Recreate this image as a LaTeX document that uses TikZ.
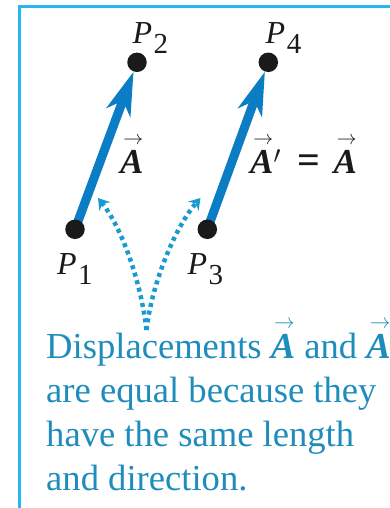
\documentclass[tikz,border=0pt]{standalone}
\usepackage{fontspec}
\setmainfont{Liberation Serif}
\usepackage{graphicx}
\usetikzlibrary{arrows.meta,backgrounds}
\definecolor{framecol}{HTML}{27B6EE}
\definecolor{vecblue}{HTML}{0B7DC4}
\definecolor{dotblue}{HTML}{1A9AD2}
\definecolor{txtblue}{HTML}{1E8DBB}
\definecolor{ptblack}{HTML}{1A1A1A}
\newcommand{\vecov}[1]{\setbox0=\hbox{#1}\leavevmode\rlap{\kern0.14\wd0\raisebox{\dimexpr\ht0+5.5pt\relax}{\resizebox{0.85\wd0}{!}{$\rightarrow$}}}\box0}
\newcommand{\vecA}{\vecov{\bfseries\itshape A}}
\newcommand{\Pl}[1]{{\fontsize{32}{32}\selectfont\itshape P}\kern1.5pt\raisebox{-10pt}{\fontsize{29}{29}\selectfont #1}}
\begin{document}
\begin{tikzpicture}[x=1pt,y=-1pt,
  ptdot/.style={circle,fill=ptblack,inner sep=0pt,minimum size=19.5pt},
  vecline/.style={vecblue,line width=9pt,-{Stealth[length=43pt,width=25pt,inset=12pt]}},
  dotline/.style={dotblue,line width=4.5pt,dash pattern=on 4pt off 3.8pt,-{Stealth[length=11pt,width=14pt,inset=4pt]}},
  lbl/.style={text=ptblack,inner sep=0pt,anchor=base west},
  veclbl/.style={text=ptblack,inner sep=0pt,anchor=base west,font=\fontsize{35}{35}\selectfont},
  captxt/.style={text=txtblue,inner sep=0pt,anchor=base west,font=\fontsize{36.6}{43}\selectfont}]
\useasboundingbox (0,0) rectangle (390,508);
\draw[framecol,line width=2.5pt] (19.5,520) -- (19.5,6.5) -- (400,6.5);
% points
\node[ptdot] (p1) at (75,229.3) {};
\node[ptdot] (p2) at (137,62.3) {};
\node[ptdot] (p3) at (207.3,229.3) {};
\node[ptdot] (p4) at (268.3,62.3) {};
\begin{scope}[on background layer]
\draw[vecline] (p1.center) -- (p2);
\draw[vecline] (p3.center) -- (p4);
\end{scope}
% point labels
\node[lbl] (l1) at (57,274) {\Pl{1}};
\node[lbl] (l2) at (132.5,43.3) {\Pl{2}};
\node[lbl] (l3) at (187.5,274.5) {\Pl{3}};
\node[lbl] (l4) at (265.5,43.3) {\Pl{4}};
% vector labels
\node[veclbl] (va) at (120,173) {\vecA};
\node[veclbl] (vb) at (250,173) {\vecA$'$\kern17pt{\fontsize{40}{40}\selectfont\bfseries =}\kern13pt\vecA};
% dotted arrows
\coordinate (root) at (146.5,330);
\coordinate (tl) at (98,198);
\coordinate (tr) at (200.5,198);
\draw[dotline] (root) .. controls (141,282) and (122,228) .. (tl);
\draw[dotline] (root) .. controls (152,282) and (176,226) .. (tr);
% caption
\node[captxt] (c1) at (46,358) {Displacements \vecA{} and \vecA};
\node[captxt] (c2) at (46,402) {are equal because they};
\node[captxt] (c3) at (46,446) {have the same length};
\node[captxt] (c4) at (46,490) {and direction.};
\end{tikzpicture}
\end{document}
